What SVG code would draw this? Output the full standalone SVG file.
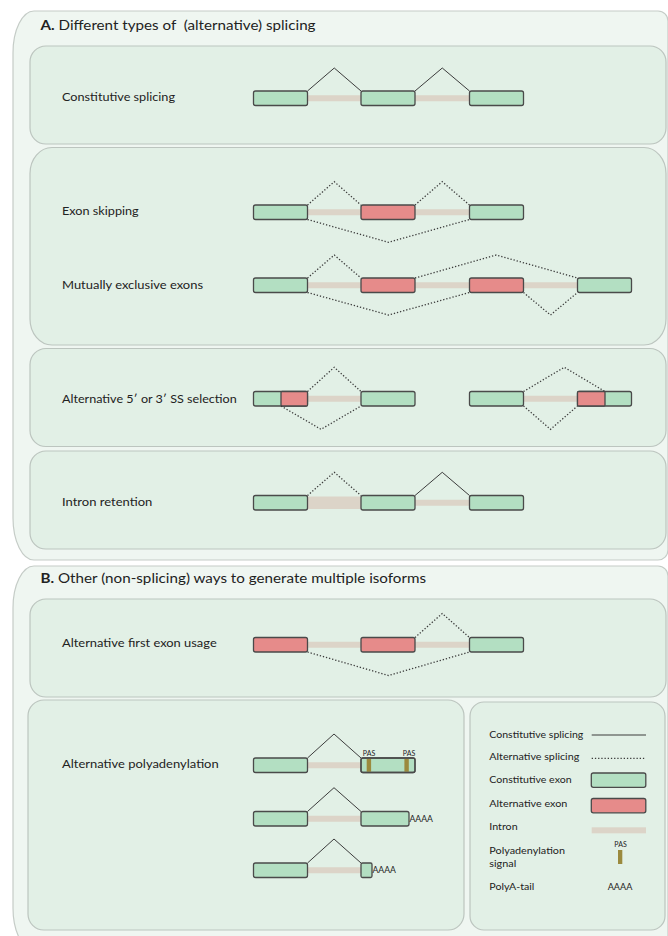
<svg xmlns="http://www.w3.org/2000/svg" width="668" height="936" viewBox="0 0 668 936">
<style>
.outer{fill:#eff6f1;stroke:#c5ccc7;stroke-width:1.2}
.sub{fill:#e2f0e6;stroke:#bcc5bf;stroke-width:1.2}
.ex{fill:#b3dfc2;stroke:#4a4a4a;stroke-width:1.3}
.alt{fill:#e68b8a;stroke:#4a4a4a;stroke-width:1.3}
.intr{fill:#dcd4c8}
.sol{fill:none;stroke:#3c3c3c;stroke-width:1}
.dot{fill:none;stroke:#3c3c3c;stroke-width:1.3;stroke-dasharray:1.3 1.9}
.pas{fill:#9b8a3e}
text{font-family:Lato,"Liberation Sans",sans-serif;fill:#222}
.lbl{font-size:12.3px}
.ttl{font-size:13.8px}
.leg{font-size:10.2px}
.sm{font-size:7px}
.aa{font-size:9px}
</style>

<!-- Panel A -->
<g id="panelA">
<path class="outer" d="M 34,11 H 658 A 10,10 0 0 1 668,21 V 550 A 10,10 0 0 1 658,560 H 34 A 21,42 0 0 1 13,518 V 53 A 21,42 0 0 1 34,11 Z"/>
<text class="ttl" x="40.5" y="30" textLength="275" lengthAdjust="spacingAndGlyphs" xml:space="preserve"><tspan font-weight="bold">A.</tspan> Different types of  (alternative) splicing</text>
</g>

<g id="constitutive">
<rect class="sub" x="30" y="46" width="636" height="98" rx="16" ry="16"/>
<text class="lbl" x="62" y="101" textLength="113" lengthAdjust="spacingAndGlyphs">Constitutive splicing</text>
<rect class="intr" x="307.5" y="95.25" width="53.5" height="6"/>
<rect class="intr" x="415" y="95.25" width="54.5" height="6"/>
<rect class="ex" x="253.5" y="91" width="54" height="14.5" rx="2"/>
<rect class="ex" x="361" y="91" width="54" height="14.5" rx="2"/>
<rect class="ex" x="469.5" y="91" width="54" height="14.5" rx="2"/>
</g>

<g id="skipping-mutual">
<rect class="sub" x="30" y="147.5" width="636" height="197.5" rx="22" ry="26"/>
<text class="lbl" x="62" y="215" textLength="76.7" lengthAdjust="spacingAndGlyphs">Exon skipping</text>
<rect class="intr" x="307.5" y="209.25" width="53.5" height="6"/>
<rect class="intr" x="415" y="209.25" width="54.5" height="6"/>
<rect class="ex" x="253.5" y="205" width="54" height="14.5" rx="2"/>
<rect class="alt" x="361" y="205" width="54" height="14.5" rx="2"/>
<rect class="ex" x="469.5" y="205" width="54" height="14.5" rx="2"/>
<text class="lbl" x="62" y="289" textLength="141" lengthAdjust="spacingAndGlyphs">Mutually exclusive exons</text>
<rect class="intr" x="307.5" y="282.25" width="53.5" height="6"/>
<rect class="intr" x="415" y="282.25" width="54.5" height="6"/>
<rect class="intr" x="523.5" y="282.25" width="54" height="6"/>
<rect class="ex" x="253.5" y="278" width="54" height="14.5" rx="2"/>
<rect class="alt" x="361" y="278" width="54" height="14.5" rx="2"/>
<rect class="alt" x="469.5" y="278" width="54" height="14.5" rx="2"/>
<rect class="ex" x="577.5" y="278" width="54" height="14.5" rx="2"/>
</g>

<g id="altss">
<rect class="sub" x="30" y="348.5" width="636" height="98" rx="16" ry="16"/>
<text class="lbl" x="62" y="403" textLength="174.7" lengthAdjust="spacingAndGlyphs">Alternative 5′ or 3′ SS selection</text>
<rect class="intr" x="307.5" y="395.75" width="53.5" height="6"/>
<rect class="ex" x="253.5" y="391.5" width="54" height="14.5" rx="2"/>
<rect class="alt" x="281" y="391.5" width="26.5" height="14.5" rx="1"/>
<rect class="ex" x="361" y="391.5" width="54" height="14.5" rx="2"/>
<rect class="intr" x="523.5" y="395.75" width="54" height="6"/>
<rect class="ex" x="469.5" y="391.5" width="54" height="14.5" rx="2"/>
<rect class="ex" x="577.5" y="391.5" width="54" height="14.5" rx="2"/>
<rect class="alt" x="577.5" y="391.5" width="27.5" height="14.5" rx="1"/>
</g>

<g id="retention">
<rect class="sub" x="30" y="451" width="636" height="98" rx="16" ry="16"/>
<text class="lbl" x="62" y="506" textLength="90.3" lengthAdjust="spacingAndGlyphs">Intron retention</text>
<rect class="intr" x="307.5" y="496.5" width="53.5" height="12.5"/>
<rect class="intr" x="415" y="499.75" width="54.5" height="6"/>
<rect class="ex" x="253.5" y="495.5" width="54" height="14.5" rx="2"/>
<rect class="ex" x="361" y="495.5" width="54" height="14.5" rx="2"/>
<rect class="ex" x="469.5" y="495.5" width="54" height="14.5" rx="2"/>
</g>

<!-- Panel B -->
<g id="panelB">
<path class="outer" d="M 34,566 H 658 A 10,10 0 0 1 668,576 V 950 H 34 A 21,42 0 0 1 13,908 V 608 A 21,42 0 0 1 34,566 Z"/>
<text class="ttl" x="40.5" y="583" textLength="385.6" lengthAdjust="spacingAndGlyphs"><tspan font-weight="bold">B.</tspan> Other (non-splicing) ways to generate multiple isoforms</text>
</g>

<g id="firstexon">
<rect class="sub" x="30" y="599" width="636" height="98" rx="16" ry="16"/>
<text class="lbl" x="62" y="647" textLength="154.7" lengthAdjust="spacingAndGlyphs">Alternative first exon usage</text>
<rect class="intr" x="307.5" y="641.75" width="53.5" height="6"/>
<rect class="intr" x="415" y="641.75" width="54.5" height="6"/>
<rect class="alt" x="253.5" y="637.5" width="54" height="14.5" rx="2"/>
<rect class="alt" x="361" y="637.5" width="54" height="14.5" rx="2"/>
<rect class="ex" x="469.5" y="637.5" width="54" height="14.5" rx="2"/>
</g>

<g id="polya">
<rect class="sub" x="28" y="700" width="436" height="230" rx="16" ry="16"/>
<text class="lbl" x="62" y="768" textLength="156.7" lengthAdjust="spacingAndGlyphs">Alternative polyadenylation</text>
<rect class="intr" x="307.5" y="762.25" width="53.5" height="6"/>
<rect class="ex" x="253.5" y="758" width="54" height="14.5" rx="2"/>
<rect class="ex" x="361" y="758" width="54" height="14.5" rx="2"/>
<rect class="pas" x="366.7" y="758.7" width="4.4" height="13.1"/>
<rect class="pas" x="404.4" y="758.7" width="4.4" height="13.1"/>
<rect x="361" y="758" width="54" height="14.5" rx="2" fill="none" stroke="#4a4a4a" stroke-width="1.3"/>
<text class="sm" x="369" y="755.5" text-anchor="middle">PAS</text>
<text class="sm" x="409" y="755.5" text-anchor="middle">PAS</text>
<rect class="intr" x="307.5" y="815.75" width="53.5" height="6"/>
<rect class="ex" x="253.5" y="811.5" width="54" height="14.5" rx="2"/>
<rect class="ex" x="361" y="811.5" width="48" height="14.5" rx="2"/>
<text class="aa" x="409.5" y="822" textLength="23.5" lengthAdjust="spacingAndGlyphs">AAAA</text>
<rect class="intr" x="307.5" y="867.25" width="53.5" height="6"/>
<rect class="ex" x="253.5" y="863" width="54" height="14.5" rx="2"/>
<rect class="ex" x="361" y="863" width="11" height="14.5" rx="1.5"/>
<text class="aa" x="372.5" y="872.5" textLength="23.5" lengthAdjust="spacingAndGlyphs">AAAA</text>
</g>

<g id="legend">
<rect class="sub" x="470" y="702" width="195" height="228" rx="14" ry="14"/>
<text class="leg" x="489.3" y="737.5" textLength="94" lengthAdjust="spacingAndGlyphs">Constitutive splicing</text>
<line class="sol" x1="591.7" y1="735" x2="646" y2="735"/>
<text class="leg" x="489.3" y="759.5" textLength="90" lengthAdjust="spacingAndGlyphs">Alternative splicing</text>
<line class="dot" x1="591.7" y1="758.3" x2="646" y2="758.3" stroke-width="1"/>
<text class="leg" x="489.3" y="783" textLength="82.3" lengthAdjust="spacingAndGlyphs">Constitutive exon</text>
<rect class="ex" x="591.3" y="773" width="54.5" height="14.3" rx="2"/>
<text class="leg" x="489.3" y="807" textLength="78" lengthAdjust="spacingAndGlyphs">Alternative exon</text>
<rect class="alt" x="591.3" y="798.5" width="54.5" height="14.3" rx="2"/>
<text class="leg" x="489.3" y="830" textLength="28.3" lengthAdjust="spacingAndGlyphs">Intron</text>
<rect class="intr" x="591.7" y="827.3" width="54.3" height="6"/>
<text class="leg" x="489.3" y="854" textLength="75.7" lengthAdjust="spacingAndGlyphs">Polyadenylation</text>
<text class="leg" x="489.3" y="867" textLength="27" lengthAdjust="spacingAndGlyphs">signal</text>
<text class="sm" x="620.5" y="846.7" text-anchor="middle">PAS</text>
<rect class="pas" x="618" y="850" width="4.3" height="14"/>
<text class="leg" x="489.3" y="889.5" textLength="45" lengthAdjust="spacingAndGlyphs">PolyA-tail</text>
<text class="leg" x="607.7" y="889.5" textLength="24.6" lengthAdjust="spacingAndGlyphs" font-size="9">AAAA</text>
</g>

<g id="connectors">
<polyline class="sol" points="307.5,91 334.25,68 361,91"/>
<polyline class="sol" points="415,91 442.25,68 469.5,91"/>
<polyline class="dot" points="307.5,205 334.25,181.7 361,205"/>
<polyline class="dot" points="415,205 442.25,181.7 469.5,205"/>
<polyline class="dot" points="307.5,219.5 388.5,242.3 469.5,219.5"/>
<polyline class="dot" points="307.5,278 334.25,255 361,278"/>
<polyline class="dot" points="415,278 496.25,255 577.5,278"/>
<polyline class="dot" points="307.5,292.5 388.5,315 469.5,292.5"/>
<polyline class="dot" points="523.5,292.5 550.5,315 577.5,292.5"/>
<polyline class="dot" points="307.5,391.5 334.25,367.3 361,391.5"/>
<polyline class="dot" points="281,406 321,429.3 361,406"/>
<polyline class="dot" points="523.5,391.5 564.25,367.3 605,391.5"/>
<polyline class="dot" points="523.5,406 550.5,429.3 577.5,406"/>
<polyline class="dot" points="307.5,495.5 334.25,472.3 361,495.5"/>
<polyline class="sol" points="415,495.5 442.25,472.3 469.5,495.5"/>
<polyline class="dot" points="415,637.5 442.25,613.5 469.5,637.5"/>
<polyline class="dot" points="307.5,652 388.5,675.5 469.5,652"/>
<polyline class="sol" points="307.5,758 334,734 361,758"/>
<polyline class="sol" points="307.5,811.5 334,787.7 361,811.5"/>
<polyline class="sol" points="307.5,863 334,839 361,863"/>
</g>
</svg>
